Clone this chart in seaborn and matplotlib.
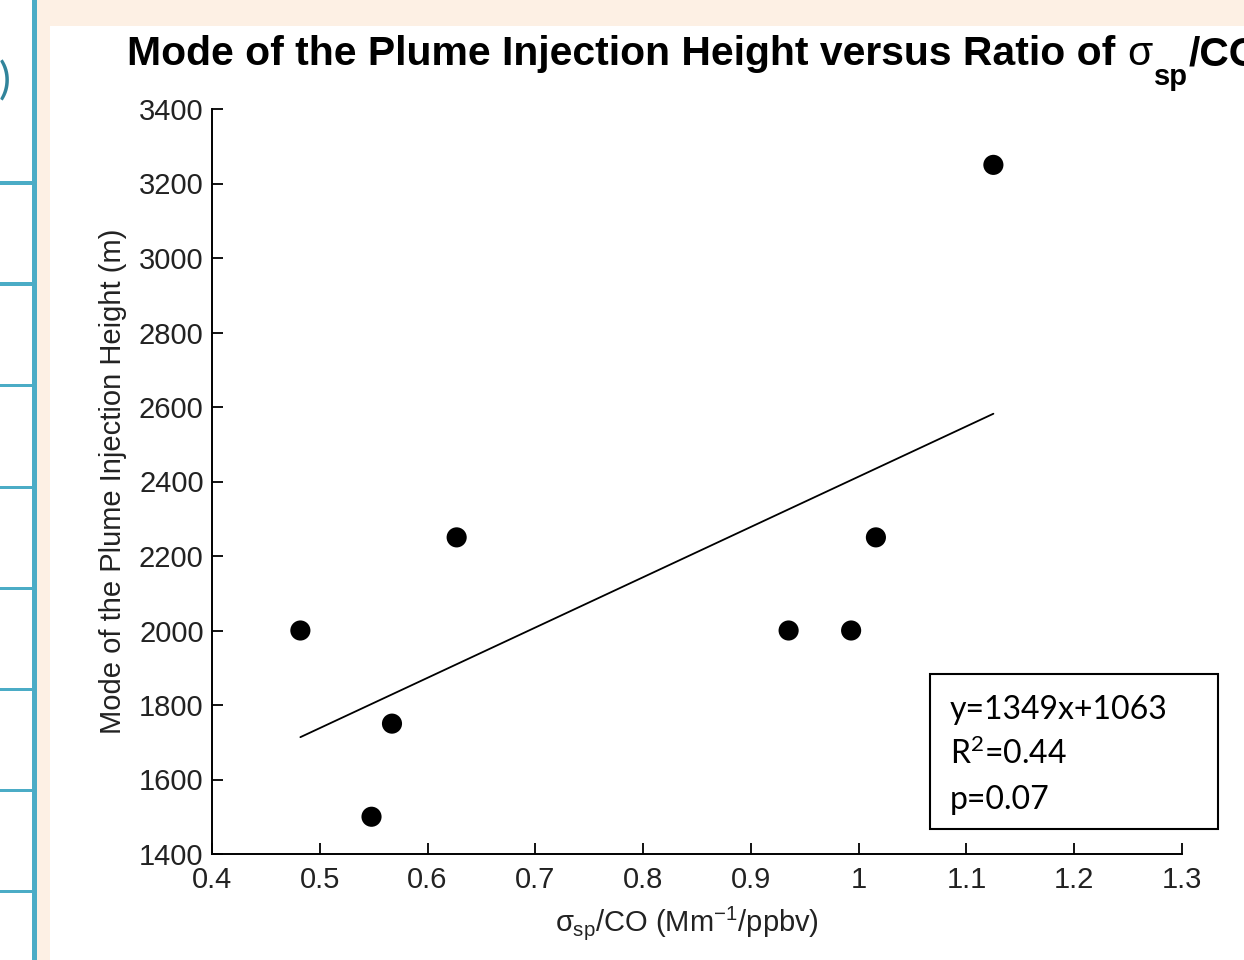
import matplotlib
matplotlib.use("Agg")
import matplotlib.pyplot as plt
from matplotlib.patches import Rectangle
import seaborn as sns

# sigma_sp/CO ratio (Mm^-1/ppbv) and mode of plume injection height (m)
ratio = [0.482, 0.548, 0.567, 0.627, 0.935, 0.993, 1.016, 1.125]
height = [2000, 1500, 1750, 2250, 2000, 2000, 2250, 3250]

x_ticks = [0.4, 0.5, 0.6, 0.7, 0.8, 0.9, 1.0, 1.1, 1.2, 1.3]
x_tick_labels = ["0.4", "0.5", "0.6", "0.7", "0.8", "0.9", "1", "1.1", "1.2", "1.3"]
y_ticks = [1400, 1600, 1800, 2000, 2200, 2400, 2600, 2800, 3000, 3200, 3400]

fit_lines = ["y=1349x+1063", r"R$^{\mathregular{2}}$=0.44", "p=0.07"]

sns.set_style("ticks")
plt.rcParams["font.family"] = ["Liberation Sans", "DejaVu Sans"]
plt.rcParams["mathtext.fontset"] = "custom"
plt.rcParams["mathtext.rm"] = "Liberation Sans"
plt.rcParams["mathtext.it"] = "Liberation Sans"
plt.rcParams["mathtext.bf"] = "Liberation Sans:bold"

W, H = 1244, 960
fig = plt.figure(figsize=(W / 100, H / 100), dpi=100)
fig.patch.set_facecolor("#FDF0E4")

# slide decoration: white chart panel, left table strip with blue rules
fig.add_artist(Rectangle((50 / W, 0), 1, (H - 26) / H, transform=fig.transFigure,
                         facecolor="white", edgecolor="none", zorder=0))
fig.add_artist(Rectangle((0, 0), 32 / W, 1, transform=fig.transFigure,
                         facecolor="white", edgecolor="none", zorder=0))
fig.add_artist(Rectangle((32 / W, 0), 5 / W, 1, transform=fig.transFigure,
                         facecolor="#4BACC6", edgecolor="none", zorder=1))
for yy in [183, 284, 386, 487, 588, 689, 790, 891]:
    fig.add_artist(Rectangle((0, 1 - (yy + 1.5) / H), 32 / W, 3 / H,
                             transform=fig.transFigure,
                             facecolor="#4BACC6", edgecolor="none", zorder=1))
fig.text(11 / W, 1 - 82 / H, ")", ha="right", va="center", fontsize=32,
         color="#31849B", family=["Lato", "DejaVu Sans"])

ax = fig.add_axes([212 / W, 1 - 854 / H, 970 / W, 745 / H])
ax.set_facecolor("white")

sns.regplot(x=ratio, y=height, ax=ax, scatter=False, ci=None, truncate=True,
            line_kws=dict(color="black", lw=1.3))
sns.scatterplot(x=ratio, y=height, ax=ax, color="black", s=210,
                edgecolor="none", zorder=3)

ax.set_xlim(0.4, 1.3)
ax.set_ylim(1400, 3400)
ax.set_xticks(x_ticks)
ax.set_xticklabels(x_tick_labels)
ax.set_yticks(y_ticks)
ax.tick_params(direction="in", length=8, width=1.3, labelsize=21,
               colors="black", labelcolor="#222222")
ax.tick_params(axis="x", pad=9)
ax.tick_params(axis="y", pad=6)
for side in ["top", "right"]:
    ax.spines[side].set_visible(False)
for side in ["left", "bottom"]:
    ax.spines[side].set_linewidth(1.4)
    ax.spines[side].set_color("black")

ax.set_ylabel("Mode of the Plume Injection Height (m)", fontsize=21,
              color="#222222")
ax.yaxis.set_label_coords(-0.088, 0.5)
ax.set_xlabel(r"$\sigma_{\mathrm{sp}}$/CO (Mm$^{-1}$/ppbv)", fontsize=21,
              color="#222222")
ax.xaxis.set_label_coords(0.49, -0.068)

# title built piece by piece so the subscript sits low like the original
renderer = fig.canvas.get_renderer()
title_parts = [
    ("Mode of the Plume Injection Height versus Ratio of ", 29.4, "bold", 0),
    ("\u03c3", 29.4, "normal", 0),
    ("sp", 21, "bold", 20),
    ("/CO", 29.4, "bold", 0),
]
x_px = 127
for txt, size, weight, drop in title_parts:
    t = fig.text(x_px / W, 1 - (65 + drop) / H, txt, ha="left", va="baseline",
                 fontsize=size, fontweight=weight, color="black")
    x_px = t.get_window_extent(renderer).x1 + 1

# regression summary box
fig.add_artist(Rectangle((930 / W, 1 - 829 / H), 288 / W, 155 / H,
                         transform=fig.transFigure, facecolor="white",
                         edgecolor="black", lw=1.5, zorder=5))
for i, line in enumerate(fit_lines):
    fig.text(950 / W, 1 - (719 + 45 * i) / H, line, ha="left", va="baseline",
             fontsize=23, color="black", family=["Lato", "DejaVu Sans"],
             zorder=6)

fig.savefig("out.png", dpi=100, facecolor=fig.get_facecolor())
